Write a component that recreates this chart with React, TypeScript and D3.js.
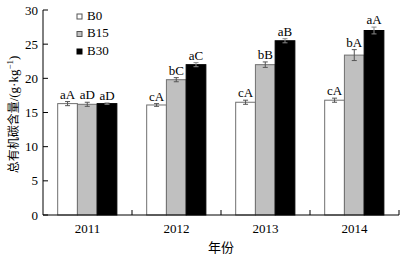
import React from "react";
import * as d3 from "d3";

const years = ["2011", "2012", "2013", "2014"];
const series = ["B0", "B15", "B30"];
const b0 = [16.3, 16.1, 16.5, 16.8];
const b15 = [16.2, 19.8, 22.0, 23.4];
const b30 = [16.3, 22.0, 25.5, 27.0];
const b0Err = [0.3, 0.2, 0.3, 0.3];
const b15Err = [0.3, 0.3, 0.4, 0.8];
const b30Err = [0.1, 0.3, 0.3, 0.5];
const b0Lab = ["aA", "cA", "cA", "cA"];
const b15Lab = ["aD", "bC", "bB", "bA"];
const b30Lab = ["aD", "aC", "aB", "aA"];
const yTicks = [0, 5, 10, 15, 20, 25, 30];

const values = [b0, b15, b30];
const errs = [b0Err, b15Err, b30Err];
const labs = [b0Lab, b15Lab, b30Lab];
const fills = ["#ffffff", "#c0c0c0", "#000000"];
const strokes = ["#707070", "#707070", "#000000"];

const serif = "'Liberation Serif', 'DejaVu Serif', serif";
const cjk = "'Noto Sans CJK SC', sans-serif";

export default function App() {
  const W = 408, H = 258;
  const left = 43, right = 399, top = 10, bottom = 215;
  const x = d3.scaleBand<string>().domain(years).range([left, right]).padding(0);
  const bw = x.bandwidth();
  const xs = d3.scaleBand<string>().domain(series).range([bw * 0.165, bw * 0.83]).padding(0);
  const y = d3.scaleLinear().domain([0, 30]).range([bottom, top]);
  const cap = 2.5;

  return (
    <svg width={W} height={H} style={{ position: "absolute", left: 0, top: 0 }}>
      <rect width={W} height={H} fill="#fff" />
      {years.map((yr, i) =>
        series.map((s, j) => {
          const v = values[j][i];
          const e = errs[j][i];
          const bx = (x(yr) as number) + (xs(s) as number);
          const w = xs.bandwidth();
          const cx = bx + w / 2;
          return (
            <g key={yr + s}>
              <rect x={bx} y={y(v)} width={w} height={y(0) - y(v)} fill={fills[j]} stroke={strokes[j]} strokeWidth={1} />
              <line x1={cx} x2={cx} y1={y(v - e)} y2={y(v + e)} stroke={j === 2 ? "#888" : "#555"} strokeWidth={1} />
              <line x1={cx - cap} x2={cx + cap} y1={y(v + e)} y2={y(v + e)} stroke={j === 2 ? "#888" : "#555"} strokeWidth={1} />
              <line x1={cx - cap} x2={cx + cap} y1={y(v - e)} y2={y(v - e)} stroke={j === 2 ? "#888" : "#555"} strokeWidth={1} />
              <text x={cx} y={y(v + e) - 3} textAnchor="middle" fontFamily={serif} fontSize={13} fill="#000">
                {labs[j][i]}
              </text>
            </g>
          );
        })
      )}
      {/* axes */}
      <line x1={left} x2={left} y1={top} y2={bottom} stroke="#000" strokeWidth={1} />
      <line x1={left} x2={right} y1={bottom} y2={bottom} stroke="#000" strokeWidth={1} />
      {yTicks.map((t) => (
        <g key={t}>
          <line x1={left} x2={left + 5} y1={y(t)} y2={y(t)} stroke="#000" />
          <text x={left - 5} y={y(t)} dy="0.35em" textAnchor="end" fontFamily={serif} fontSize={13}>
            {t}
          </text>
        </g>
      ))}
      {years.map((yr) => (
        <g key={yr}>
          <line x1={(x(yr) as number) + bw} x2={(x(yr) as number) + bw} y1={bottom} y2={bottom - 5} stroke="#000" />
          <text x={(x(yr) as number) + bw / 2} y={bottom + 18} textAnchor="middle" fontFamily={serif} fontSize={13}>
            {yr}
          </text>
        </g>
      ))}
      <text x={(left + right) / 2} y={252} textAnchor="middle" fontFamily={cjk} fontSize={13}>
        年份
      </text>
      <text
        transform={`translate(14, ${(top + bottom) / 2 + 2}) rotate(-90)`}
        textAnchor="middle"
        dy="0.35em"
        fontSize={12}
      >
        <tspan fontFamily={cjk}>总有机碳含量</tspan>
        <tspan fontFamily={serif} fontSize={13}>/(g·kg</tspan>
        <tspan fontFamily={serif} fontSize={9} dy="-5">−1</tspan>
        <tspan fontFamily={serif} fontSize={13} dy="5">)</tspan>
      </text>
      {/* legend */}
      {series.map((s, j) => (
        <g key={s} transform={`translate(77, ${14 + j * 17.5})`}>
          <rect x={0} y={0} width={5} height={5} fill={fills[j]} stroke={strokes[j] === "#000000" ? "#000" : "#555"} />
          <text x={10} y={5.5} fontFamily={serif} fontSize={13}>
            {s}
          </text>
        </g>
      ))}
    </svg>
  );
}
